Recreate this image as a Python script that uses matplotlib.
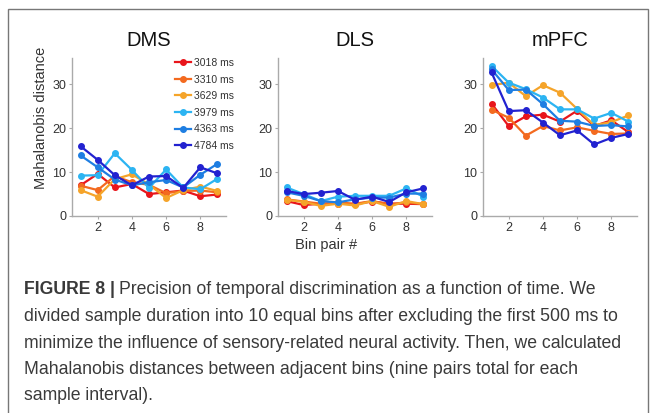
import matplotlib
matplotlib.use("Agg")
import matplotlib.pyplot as plt
from matplotlib.patches import Rectangle

plt.rcParams['font.family'] = ['Liberation Sans', 'DejaVu Sans']

bins = [1, 2, 3, 4, 5, 6, 7, 8, 9]
intervals = ["3018 ms", "3310 ms", "3629 ms", "3979 ms", "4363 ms", "4784 ms"]
colors = ["#e8151b", "#f36a1f", "#f5a42a", "#2cb4f2", "#1e7ee2", "#2222d0"]

dms = [
    [7.0, 9.6, 6.5, 7.3, 5.0, 5.4, 5.8, 4.5, 4.9],
    [6.9, 5.9, 9.1, 7.7, 7.1, 5.2, 5.7, 5.8, 5.4],
    [5.9, 4.4, 8.4, 9.5, 7.2, 4.1, 5.9, 6.7, 5.7],
    [9.2, 9.3, 14.3, 10.5, 6.4, 10.6, 6.5, 6.1, 8.5],
    [13.8, 11.1, 8.3, 7.0, 7.7, 8.2, 6.5, 9.4, 11.9],
    [15.9, 12.8, 9.3, 7.0, 9.0, 9.1, 6.4, 11.1, 9.7],
]
dls = [
    [3.4, 2.5, 2.8, 2.8, 2.7, 3.3, 2.8, 2.8, 2.7],
    [3.8, 3.3, 2.8, 3.1, 2.8, 3.4, 2.7, 3.1, 2.7],
    [3.7, 3.2, 2.3, 2.8, 2.4, 3.4, 2.1, 3.4, 2.7],
    [6.5, 5.0, 3.4, 4.4, 4.6, 4.6, 4.6, 6.3, 4.4],
    [5.4, 4.6, 3.4, 3.1, 3.8, 4.2, 4.2, 5.1, 5.1],
    [5.7, 5.0, 5.3, 5.7, 3.7, 4.4, 3.2, 5.4, 6.3],
]
mpfc = [
    [25.6, 20.5, 22.7, 23.1, 21.5, 24.0, 20.5, 21.8, 19.1],
    [24.2, 22.4, 18.3, 20.5, 19.5, 20.2, 19.4, 18.7, 18.8],
    [29.8, 30.4, 27.3, 29.8, 28.1, 24.4, 20.7, 21.4, 22.9],
    [34.2, 30.4, 28.9, 27.0, 24.3, 24.3, 22.2, 23.5, 21.5],
    [33.4, 28.7, 28.8, 25.5, 21.7, 21.5, 20.5, 20.7, 20.4],
    [32.7, 23.9, 24.1, 21.3, 18.4, 19.5, 16.3, 17.8, 18.7],
]
titles = ["DMS", "DLS", "mPFC"]
panels = [dms, dls, mpfc]
xticks = [2, 4, 6, 8]
yticks = [0, 10, 20, 30]

W, H = 656, 413
fig = plt.figure(figsize=(W / 100, H / 100), dpi=100)

# frame around figure
fig.patches.append(Rectangle((8 / W, -0.05), (648 - 8) / W, (H - 9) / H + 0.05,
                             transform=fig.transFigure, fill=False,
                             edgecolor="#777777", linewidth=1.0))

lefts = [72, 278, 483]
for i, (data, title) in enumerate(zip(panels, titles)):
    ax = fig.add_axes([lefts[i] / W, (H - 216) / H, 154 / W, 158 / H])
    for vals, c, lab in zip(data, colors, intervals):
        ax.plot(bins, vals, '-o', color=c, lw=1.6, ms=4.0, label=lab)
    ax.set_xlim(0.5, 9.5)
    ax.set_ylim(0, 36)
    ax.set_xticks(xticks)
    ax.set_yticks(yticks)
    for s in ['top', 'right']:
        ax.spines[s].set_visible(False)
    for s in ['left', 'bottom']:
        ax.spines[s].set_color('#aaaaaa')
        ax.spines[s].set_linewidth(1.0)
    ax.tick_params(axis='both', labelsize=9, colors='#aaaaaa', labelcolor='#333333',
                   length=2, width=0.8, pad=2)
    ax.set_title(title, fontsize=14.5, color='#111111', pad=9)
    if i == 0:
        ax.set_ylabel("Mahalanobis distance", fontsize=10.5, color='#333333')
        ax.yaxis.set_label_coords(-0.155, 0.62)
        leg = ax.legend(loc='upper left', frameon=False, fontsize=7.5, handlelength=1.5,
                        handletextpad=0.35, labelspacing=0.63, borderaxespad=0.0,
                        borderpad=0.0, bbox_to_anchor=(0.67, 1.0))
        for t in leg.get_texts():
            t.set_color('#333333')
    if i == 1:
        ax.set_xlabel("Bin pair #", fontsize=10.5, color='#333333')
        ax.xaxis.set_label_coords(0.31, -0.14)

# caption
cap_x = 24 / W
lines_y = [294, 321, 348, 374, 400]
fs = 12.7
tcol = '#3a3a3a'
renderer = fig.canvas.get_renderer()
bold = fig.text(cap_x, 1 - lines_y[0] / H, "FIGURE 8 |", fontsize=fs, fontweight='bold',
                color=tcol, va='baseline', ha='left')
bb = bold.get_window_extent(renderer=renderer)
fig.text((bb.x1 + 4) / W, 1 - lines_y[0] / H,
         "Precision of temporal discrimination as a function of time. We",
         fontsize=fs, color=tcol, va='baseline', ha='left')
rest = [
    "divided sample duration into 10 equal bins after excluding the first 500 ms to",
    "minimize the influence of sensory-related neural activity. Then, we calculated",
    "Mahalanobis distances between adjacent bins (nine pairs total for each",
    "sample interval).",
]
for y, t in zip(lines_y[1:], rest):
    fig.text(cap_x, 1 - y / H, t, fontsize=fs, color=tcol, va='baseline', ha='left')

fig.savefig("out.png", dpi=100)
